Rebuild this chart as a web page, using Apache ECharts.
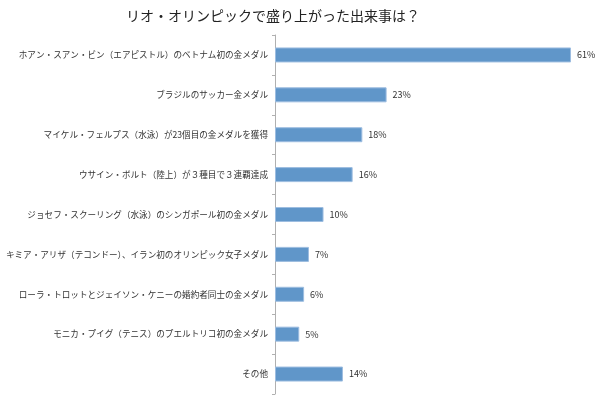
<!DOCTYPE html>
<html>
<head>
<meta charset="utf-8">
<script src="https://cdn.jsdelivr.net/npm/echarts@6/dist/echarts.min.js"></script>
<style>
  html, body { margin: 0; padding: 0; background: #fff; }
  #chart { width: 600px; height: 398px; }
</style>
</head>
<body>
<div id="chart"></div>
<script>
const titleText = 'リオ・オリンピックで盛り上がった出来事は？'

const categories = [
  'ホアン・スアン・ビン（エアピストル）のベトナム初の金メダル',
  'ブラジルのサッカー金メダル',
  'マイケル・フェルプス（水泳）が23個目の金メダルを獲得',
  'ウサイン・ボルト（陸上）が３種目で３連覇達成',
  'ジョセフ・スクーリング（水泳）のシンガポール初の金メダル',
  'キミア・アリザ（テコンドー）、イラン初のオリンピック女子メダル',
  'ローラ・トロットとジェイソン・ケニーの婚約者同士の金メダル',
  'モニカ・プイグ（テニス）のプエルトリコ初の金メダル',
  'その他'
]

const percents = [61, 23, 18, 16, 10, 7, 6, 5, 14]

const font = '"Noto Sans CJK JP", "Noto Sans", sans-serif'

const chart = echarts.init(document.getElementById('chart'))

const option = {
  animation: false,
  title: {
    text: titleText,
    left: 268,
    textAlign: 'center',
    top: 4,
    textStyle: {
      fontFamily: font,
      fontSize: 14,
      fontWeight: 'normal',
      color: '#222'
    }
  },
  grid: {
    left: 275,
    right: 29,
    top: 35,
    bottom: 4
  },
  xAxis: {
    type: 'value',
    min: 0,
    max: 61,
    show: false
  },
  yAxis: {
    type: 'category',
    inverse: true,
    data: categories,
    axisLine: { show: true, lineStyle: { color: '#b0b0b0', width: 1 } },
    axisTick: { show: true, length: 3, lineStyle: { color: '#b0b0b0' } },
    axisLabel: {
      margin: 7,
      fontFamily: font,
      fontSize: 8.6,
      color: '#333'
    }
  },
  series: [
    {
      type: 'bar',
      data: percents,
      barWidth: 15,
      itemStyle: {
        color: '#6096c9',
        borderColor: '#9dbde0',
        borderWidth: 1
      },
      label: {
        show: true,
        position: 'right',
        distance: 6,
        formatter: '{c}%',
        fontFamily: font,
        fontSize: 9,
        color: '#333'
      }
    }
  ]
}

chart.setOption(option)
</script>
</body>
</html>
